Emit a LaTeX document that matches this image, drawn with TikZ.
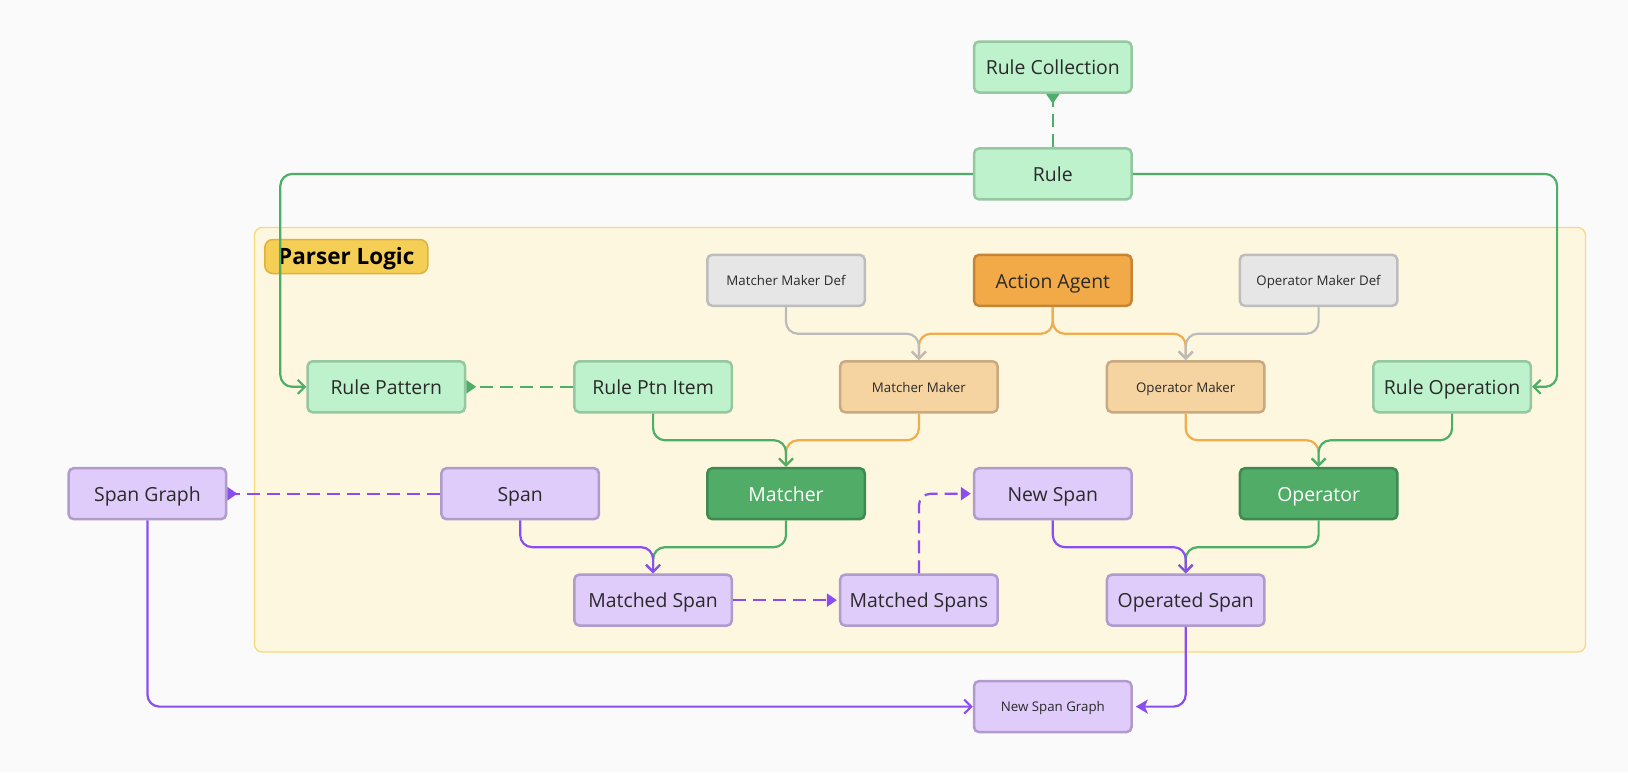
\documentclass[tikz,border=0pt]{standalone}
\usepackage{fontspec}
\setmainfont{Open Sans}
\usetikzlibrary{arrows.meta,calc}
\definecolor{bgc}{HTML}{FAFAFA}
\definecolor{contfill}{HTML}{FEF7E0}
\definecolor{contdraw}{HTML}{F7DA7B}
\definecolor{tagfill}{HTML}{F5CF55}
\definecolor{tagdraw}{HTML}{DDB040}
\definecolor{lgfill}{HTML}{BDF2CC}
\definecolor{lgdraw}{HTML}{95C7A0}
\definecolor{dgfill}{HTML}{50AC66}
\definecolor{dgdraw}{HTML}{3D8B50}
\definecolor{gyfill}{HTML}{E6E6E6}
\definecolor{gydraw}{HTML}{BDBDBD}
\definecolor{orfill}{HTML}{F2AA48}
\definecolor{ordraw}{HTML}{C48636}
\definecolor{lofill}{HTML}{F6D4A2}
\definecolor{lodraw}{HTML}{C9A980}
\definecolor{pufill}{HTML}{DFCCFA}
\definecolor{pudraw}{HTML}{B09BCB}
\definecolor{gline}{HTML}{4CAE67}
\definecolor{pline}{HTML}{8A4EF0}
\definecolor{oline}{HTML}{F0AD4E}
\definecolor{yline}{HTML}{BBBBBB}
\definecolor{txt}{HTML}{2A2A2A}
\tikzset{
  box/.style={rectangle, rounded corners=5pt, line width=2.5pt, minimum width=157.5pt,
    minimum height=51pt, inner sep=0pt, font=\fontsize{19.4}{22}\selectfont, text=txt,
    text height=16.6pt, text depth=1pt},
  smalltxt/.style={font=\fontsize{13.3}{16}\selectfont, text height=11.5pt, text depth=0.8pt},
  lg/.style={box, fill=lgfill, draw=lgdraw},
  dg/.style={box, fill=dgfill, draw=dgdraw, text=white},
  gy/.style={box, fill=gyfill, draw=gydraw, smalltxt},
  orn/.style={box, fill=orfill, draw=ordraw},
  lo/.style={box, fill=lofill, draw=lodraw, smalltxt},
  pu/.style={box, fill=pufill, draw=pudraw},
  conn/.style={line width=2.2pt, rounded corners=12pt},
  openarr/.style={-{Straight Barb[length=7pt,width=14pt,line width=2.2pt]}},
  trarr/.style={-{Triangle[length=10pt,width=13pt]}},
  revarr/.style={-{Triangle[reversed,length=10pt,width=13pt]}},
  stlarr/.style={-{Stealth[length=12pt,width=14pt,inset=3pt]}},
  dsh/.style={dash pattern=on 13pt off 7pt},
}
\begin{document}
\begin{tikzpicture}[x=1pt,y=-1pt]
\useasboundingbox (0,0) rectangle (1628,772);
\fill[bgc] (0,0) rectangle (1628,772);
% container
\draw[fill=contfill, draw=contdraw, line width=1.3pt, rounded corners=8pt] (254.4,227.4) rectangle (1585.5,652);
\node[fill=tagfill, draw=tagdraw, line width=1.5pt, rounded corners=8pt, minimum width=163pt, minimum height=34pt, inner sep=0pt,
  font=\fontsize{22.5}{24}\selectfont\bfseries, text=black, text height=17.5pt, text depth=1pt] (tag) at (346.3,256.5) {Parser Logic};
% nodes
\node[lg] (rc) at (1052.8,67) {Rule Collection};
\node[lg] (rule) at (1052.8,173.9) {Rule};
\node[gy] (mmd) at (786,280.3) {Matcher Maker Def};
\node[orn] (aa) at (1052.8,280.3) {Action Agent};
\node[gy] (omd) at (1318.6,280.3) {Operator Maker Def};
\node[lg] (rp) at (386.3,386.8) {Rule Pattern};
\node[lg] (rpi) at (653.1,386.8) {Rule Ptn Item};
\node[lo] (mm) at (918.9,386.8) {Matcher Maker};
\node[lo] (om) at (1185.7,386.8) {Operator Maker};
\node[lg] (ro) at (1452.1,386.8) {Rule Operation};
\node[pu] (sg) at (147.4,493.7) {Span Graph};
\node[pu] (span) at (520.2,493.7) {Span};
\node[dg] (mat) at (786,493.7) {Matcher};
\node[pu] (ns) at (1052.8,493.7) {New Span};
\node[dg] (op) at (1318.6,493.7) {Operator};
\node[pu] (ms) at (653.1,600.1) {Matched Span};
\node[pu] (mss) at (918.9,600.1) {Matched Spans};
\node[pu] (os) at (1185.7,600.1) {Operated Span};
\node[pu, smalltxt] (nsg) at (1052.8,706.6) {New Span Graph};
% orange connectors
\draw[conn, oline, openarr] (aa.south) -- ++(0,26.7) -| (mm.north);
\draw[conn, oline, openarr] (aa.south) -- ++(0,26.7) -| (om.north);
\draw[conn, oline, openarr] (mm.south) -- ++(0,26.7) -| (mat.north);
\draw[conn, oline, openarr] (om.south) -- ++(0,26.7) -| (op.north);
% green connectors
\draw[conn, gline, dsh, revarr] (rule.north) -- (rc.south);
\draw[conn, gline, openarr] (rule.west) -| ([xshift=-26pt]rp.west) -- (rp.west);
\draw[conn, gline, openarr] (rule.east) -| ([xshift=25pt]ro.east) -- (ro.east);
\draw[conn, gline, dsh, revarr] (rpi.west) -- (rp.east);
\draw[conn, gline, openarr] (rpi.south) -- ++(0,26.7) -| (mat.north);
\draw[conn, gline, openarr] (ro.south) -- ++(0,26.7) -| (op.north);
\draw[conn, gline, openarr] (mat.south) -- ++(0,26.7) -| (ms.north);
\draw[conn, gline, openarr] (op.south) -- ++(0,26.7) -| (os.north);
% gray connectors
\draw[conn, yline, openarr] (mmd.south) -- ++(0,26.7) -| (mm.north);
\draw[conn, yline, openarr] (omd.south) -- ++(0,26.7) -| (om.north);
% purple connectors
\draw[conn, pline, dsh, revarr] (span.west) -- (sg.east);
\draw[conn, pline, openarr] (span.south) -- ++(0,26.7) -| (ms.north);
\draw[conn, pline, openarr] (ns.south) -- ++(0,26.7) -| (os.north);
\draw[conn, pline, dsh, trarr, shorten >=2pt] (ms.east) -- (mss.west);
\draw[conn, pline, dsh, trarr, shorten >=2pt] (mss.north) |- (ns.west);
\draw[conn, pline, openarr] (sg.south) |- (nsg.west);
\draw[conn, pline, stlarr, shorten >=3pt] (os.south) |- (nsg.east);
\end{tikzpicture}
\end{document}
